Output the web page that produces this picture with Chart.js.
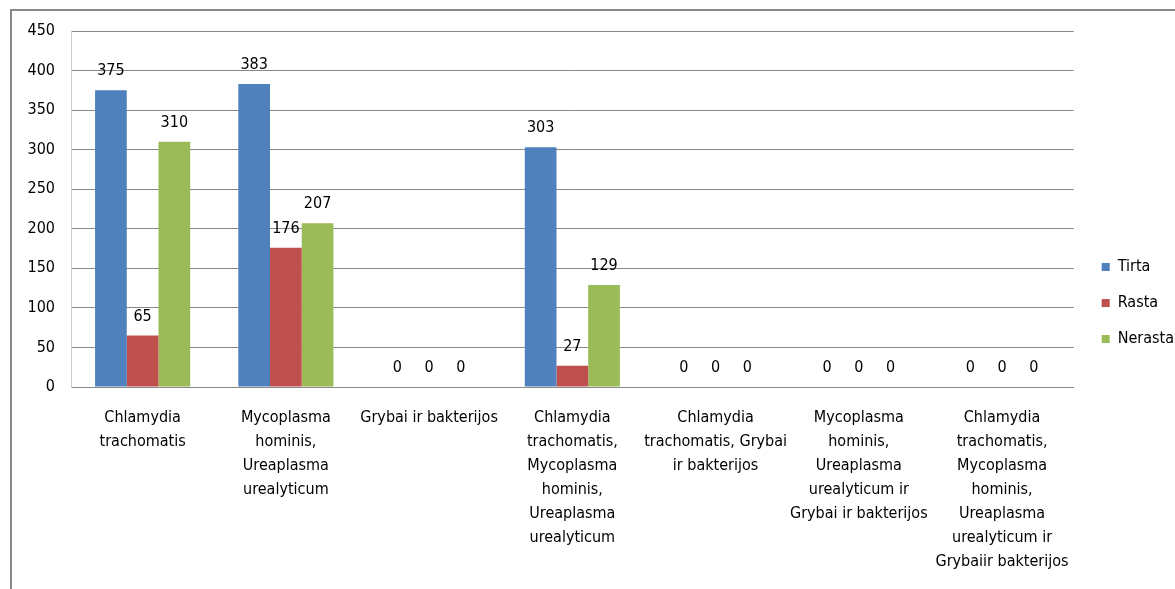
<!DOCTYPE html>
<html>
<head>
<meta charset="utf-8">
<script src="https://cdn.jsdelivr.net/npm/chart.js@4.4.1/dist/chart.umd.min.js"></script>
<style>
  html, body { margin: 0; padding: 0; background: #fff; overflow: hidden; }
  #frame {
    position: absolute; left: 10px; top: 9px;
    width: 1165px; height: 580px;
    border-left: 2px solid #888; border-top: 2px solid #888;
    box-sizing: border-box;
  }
  #wrap { position: absolute; left: 0; top: 0; width: 1163px; height: 578px; }
</style>
</head>
<body>
<div id="frame"><div id="wrap"><canvas id="c"></canvas></div></div>
<script>
const categories = [
  ["Chlamydia", "trachomatis"],
  ["Mycoplasma", "hominis,", "Ureaplasma", "urealyticum"],
  "Grybai ir bakterijos",
  ["Chlamydia", "trachomatis,", "Mycoplasma", "hominis,", "Ureaplasma", "urealyticum"],
  ["Chlamydia", "trachomatis, Grybai", "ir bakterijos"],
  ["Mycoplasma", "hominis,", "Ureaplasma", "urealyticum ir", "Grybai ir bakterijos"],
  ["Chlamydia", "trachomatis,", "Mycoplasma", "hominis,", "Ureaplasma", "urealyticum ir", "Grybaiir bakterijos"]
];
const tirta = [375, 383, 0, 303, 0, 0, 0];
const rasta = [65, 176, 0, 27, 0, 0, 0];
const nerasta = [310, 207, 0, 129, 0, 0, 0];
const yTicks = [0, 50, 100, 150, 200, 250, 300, 350, 400, 450];

const FONT = "'Liberation Sans Narrow', 'Arial Narrow', 'DejaVu Sans Condensed', sans-serif";

// writes each bar's value above it
const valueLabels = {
  id: 'valueLabels',
  afterDatasetsDraw(chart) {
    const ctx = chart.ctx;
    ctx.save();
    ctx.font = '16px ' + FONT;
    ctx.fillStyle = '#000';
    ctx.textAlign = 'center';
    ctx.textBaseline = 'middle';
    chart.data.datasets.forEach((ds, i) => {
      chart.getDatasetMeta(i).data.forEach((bar, j) => {
        ctx.fillText(String(ds.data[j]), bar.x, bar.y - 19);
      });
    });
    ctx.restore();
  }
};

new Chart(document.getElementById('c'), {
  type: 'bar',
  data: {
    labels: categories,
    datasets: [
      { label: 'Tirta', data: tirta, backgroundColor: '#4F81BD' },
      { label: 'Rasta', data: rasta, backgroundColor: '#C0504D' },
      { label: 'Nerasta', data: nerasta, backgroundColor: '#9BBB59' }
    ]
  },
  options: {
    responsive: true,
    maintainAspectRatio: false,
    animation: false,
    layout: { padding: { top: 20, right: -9, bottom: 14, left: 0 } },
    datasets: { bar: { categoryPercentage: 0.664, barPercentage: 1.0 } },
    plugins: {
      tooltip: { enabled: false },
      legend: {
        position: 'right',
        labels: {
          boxWidth: 8, boxHeight: 8, padding: 20,
          color: '#000',
          font: { family: FONT, size: 16 }
        }
      }
    },
    scales: {
      x: {
        grid: { display: false, drawTicks: false },
        border: { display: true, color: '#888' },
        ticks: {
          color: '#000', padding: 19, maxRotation: 0, autoSkip: false,
          font: { family: FONT, size: 16, lineHeight: '24px' }
        },
        afterFit(scale) { scale.height = 188; scale.paddingTop = 0; scale.paddingBottom = 0; }
      },
      y: {
        min: 0, max: 450,
        afterBuildTicks(scale) { scale.ticks = yTicks.map(v => ({ value: v })); },
        grid: { color: '#888', drawTicks: false },
        border: { display: true, color: '#ccc' },
        ticks: {
          color: '#000', padding: 16,
          font: { family: FONT, size: 16 }
        },
        afterFit(scale) { scale.width = 59; scale.paddingTop = 0; scale.paddingBottom = 0; }
      },
      // empty right-hand gutter between the plot and the legend
      gap: {
        type: 'linear', position: 'right', display: true,
        grid: { display: false, drawTicks: false },
        border: { display: false },
        ticks: { display: false },
        afterFit(scale) { scale.width = 8; scale.paddingTop = 0; scale.paddingBottom = 0; }
      }
    }
  },
  plugins: [valueLabels]
});
</script>
</body>
</html>
